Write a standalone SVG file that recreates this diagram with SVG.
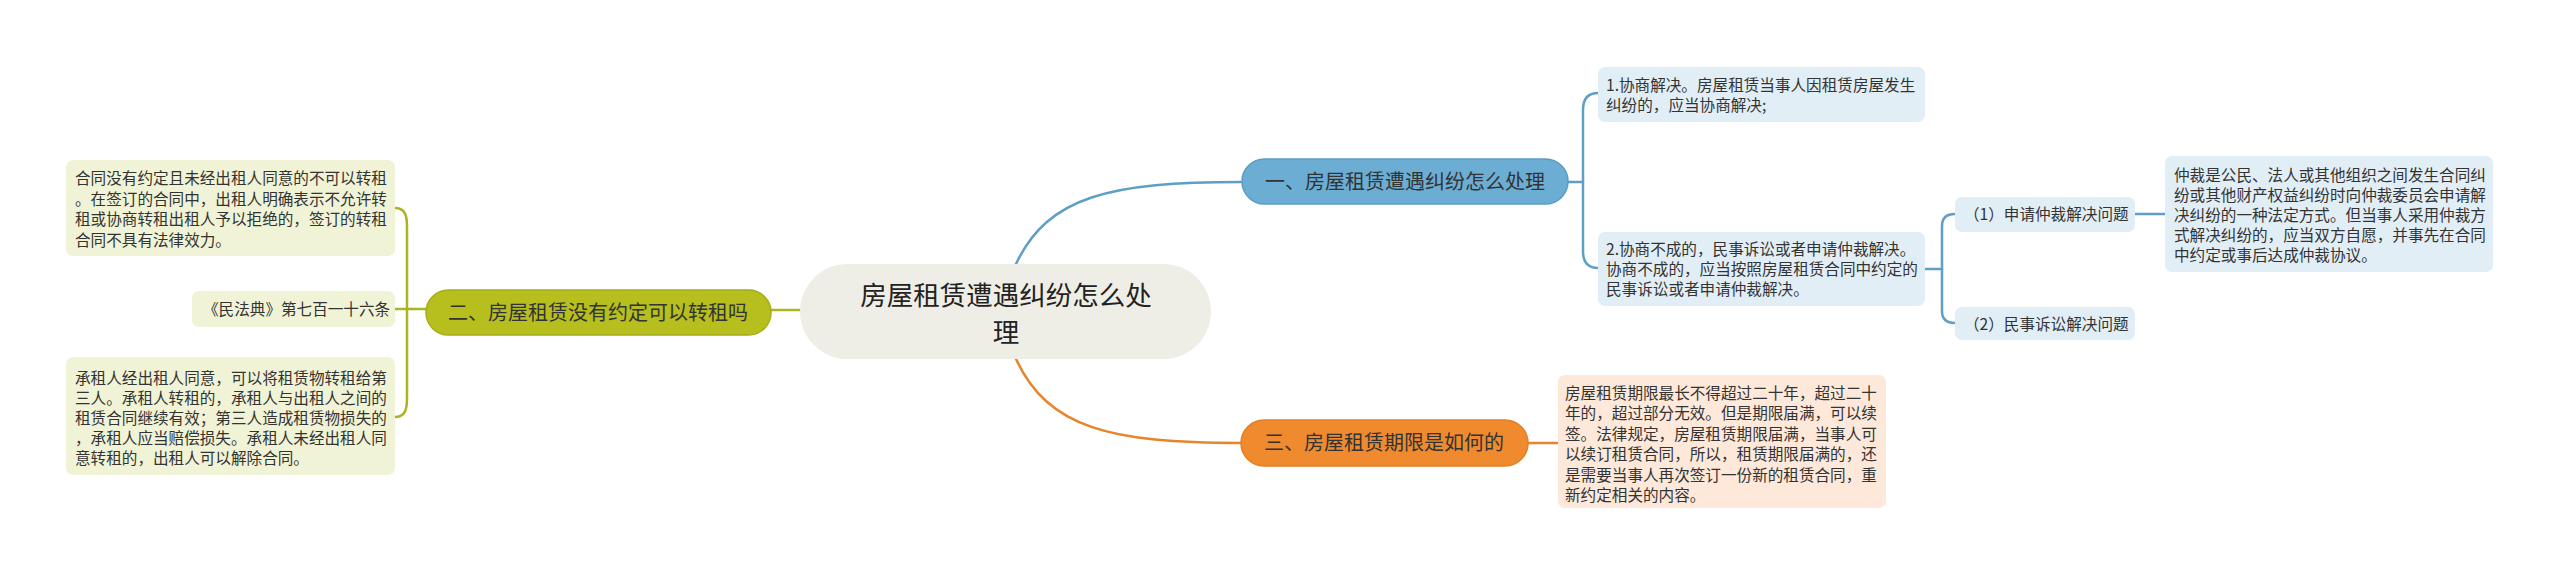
<svg xmlns="http://www.w3.org/2000/svg" width="2560" height="578" viewBox="0 0 2560 578">
<style>
text{font-family:"Noto Sans CJK SC","Noto Sans",sans-serif;fill:#333}
.leaf{font-size:15.6px}
.br{font-size:20px}
.ctr{font-size:26.5px;fill:#222}
.lo{fill:#f1f3d6}
.lb{fill:#e2eef6}
.lr{fill:#fde8d9}
.cn{fill:none;stroke-width:2.5;stroke-linecap:round}
.cb{stroke:#5e9fc6}
.co{stroke:#aab520}
.cr{stroke:#e8852c}
</style>
<rect width="2560" height="578" fill="#ffffff"/>
<g id="connectors">
<path class="cn cb" d="M1016,264 C1048,196 1110,182 1242,182"/>
<path class="cn cr" d="M1016,359 C1048,428 1110,443 1241,443"/>
<path class="cn co" d="M771,310 L800,310"/>
<path class="cn co" d="M426,309 L395,309"/>
<path class="cn co" d="M395,208 C404,208 407,214 407,226 L407,399 C407,411 404,417 395,417"/>
<path class="cn cb" d="M1568,182 L1583,182"/>
<path class="cn cb" d="M1598,93 C1588,93 1583,99 1583,110 L1583,251 C1583,262 1588,268 1598,268"/>
<path class="cn cb" d="M1925,269 L1942,269"/>
<path class="cn cb" d="M1955,214 C1946,214 1942,218 1942,226 L1942,311 C1942,319 1946,323 1955,323"/>
<path class="cn cb" d="M2135,214 L2165,214"/>
<path class="cn cr" d="M1528,443 L1558,443"/>
</g>
<g id="center">
<rect x="800" y="264" width="411" height="95" rx="47.5" fill="#efeee6"/>
<text class="ctr" x="1006" y="305" text-anchor="middle">房屋租赁遭遇纠纷怎么处</text>
<text class="ctr" x="1006" y="342" text-anchor="middle">理</text>
</g>
<g id="branch1">
<rect x="1242" y="159" width="326" height="45" rx="22.5" fill="#6cadd3" stroke="#5b9cc5" stroke-width="1.5"/>
<text class="br" x="1405" y="189" text-anchor="middle">一、房屋租赁遭遇纠纷怎么处理</text>
</g>
<g id="branch2">
<rect x="426" y="290" width="345" height="45" rx="22.5" fill="#b6bf1d" stroke="#a4ad17" stroke-width="1.5"/>
<text class="br" x="598" y="319.5" text-anchor="middle">二、房屋租赁没有约定可以转租吗</text>
</g>
<g id="branch3">
<rect x="1241" y="420" width="287" height="46" rx="23" fill="#f08a2e" stroke="#e47f22" stroke-width="1.5"/>
<text class="br" x="1384" y="450" text-anchor="middle">三、房屋租赁期限是如何的</text>
</g>
<g id="leaf-hetong">
<rect class="lo" x="66" y="160" width="329" height="96" rx="7"/>
<text class="leaf"><tspan x="75" y="184">合同没有约定且未经出租人同意的不可以转租</tspan><tspan x="75" y="204.5">。在签订的合同中，出租人明确表示不允许转</tspan><tspan x="75" y="225">租或协商转租出租人予以拒绝的，签订的转租</tspan><tspan x="75" y="245.5">合同不具有法律效力。</tspan></text>
</g>
<g id="leaf-minfadian">
<rect class="lo" x="192" y="291" width="203" height="36" rx="7"/>
<text class="leaf" x="203" y="315">《民法典》第七百一十六条</text>
</g>
<g id="leaf-chengzu">
<rect class="lo" x="66" y="357" width="329" height="118" rx="7"/>
<text class="leaf"><tspan x="75" y="384">承租人经出租人同意，可以将租赁物转租给第</tspan><tspan x="75" y="404">三人。承租人转租的，承租人与出租人之间的</tspan><tspan x="75" y="424">租赁合同继续有效；第三人造成租赁物损失的</tspan><tspan x="75" y="444">，承租人应当赔偿损失。承租人未经出租人同</tspan><tspan x="75" y="464">意转租的，出租人可以解除合同。</tspan></text>
</g>
<g id="leaf-xieshang">
<rect class="lb" x="1598" y="67" width="327" height="55" rx="7"/>
<text class="leaf"><tspan x="1606" y="91">1.协商解决。房屋租赁当事人因租赁房屋发生</tspan><tspan x="1606" y="111">纠纷的，应当协商解决;</tspan></text>
</g>
<g id="leaf-buchen">
<rect class="lb" x="1598" y="232" width="327" height="74" rx="7"/>
<text class="leaf"><tspan x="1606" y="255">2.协商不成的，民事诉讼或者申请仲裁解决。</tspan><tspan x="1606" y="275">协商不成的，应当按照房屋租赁合同中约定的</tspan><tspan x="1606" y="295">民事诉讼或者申请仲裁解决。</tspan></text>
</g>
<g id="leaf-zhongcai">
<rect class="lb" x="1955" y="197" width="180" height="35" rx="7"/>
<text class="leaf" x="1964" y="220">（1）申请仲裁解决问题</text>
</g>
<g id="leaf-susong">
<rect class="lb" x="1955" y="307" width="180" height="33" rx="7"/>
<text class="leaf" x="1964" y="330">（2）民事诉讼解决问题</text>
</g>
<g id="leaf-zhongcai-detail">
<rect class="lb" x="2165" y="156" width="328" height="116" rx="7"/>
<text class="leaf"><tspan x="2174" y="181">仲裁是公民、法人或其他组织之间发生合同纠</tspan><tspan x="2174" y="201">纷或其他财产权益纠纷时向仲裁委员会申请解</tspan><tspan x="2174" y="221">决纠纷的一种法定方式。但当事人采用仲裁方</tspan><tspan x="2174" y="241">式解决纠纷的，应当双方自愿，并事先在合同</tspan><tspan x="2174" y="261">中约定或事后达成仲裁协议。</tspan></text>
</g>
<g id="leaf-qixian">
<rect class="lr" x="1558" y="375" width="328" height="133" rx="7"/>
<text class="leaf"><tspan x="1565" y="399">房屋租赁期限最长不得超过二十年，超过二十</tspan><tspan x="1565" y="419.4">年的，超过部分无效。但是期限届满，可以续</tspan><tspan x="1565" y="439.8">签。法律规定，房屋租赁期限届满，当事人可</tspan><tspan x="1565" y="460.2">以续订租赁合同，所以，租赁期限届满的，还</tspan><tspan x="1565" y="480.6">是需要当事人再次签订一份新的租赁合同，重</tspan><tspan x="1565" y="501">新约定相关的内容。</tspan></text>
</g>
</svg>
